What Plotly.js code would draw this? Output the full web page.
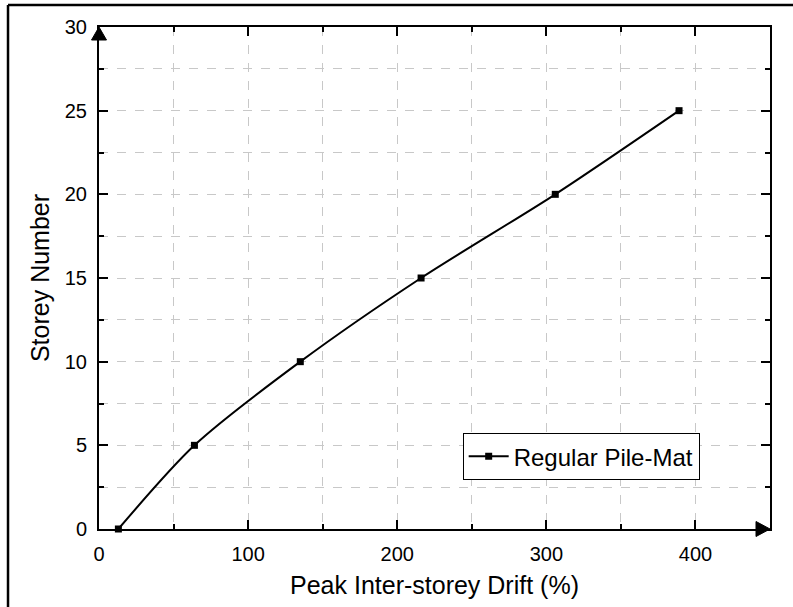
<!DOCTYPE html>
<html>
<head>
<meta charset="utf-8">
<script src="https://cdn.plot.ly/plotly-3.0.1.min.js"></script>
<style>html,body{margin:0;padding:0;background:#fff;}#chart{width:793px;height:607px;}</style>
</head>
<body>
<div id="chart"></div>
<script>
// Data
const seriesName = "Regular Pile-Mat";
const driftPercent = [13, 64, 135, 216, 306, 389];
const storeyNumber = [0, 5, 10, 15, 20, 25];
const xTitle = "Peak Inter-storey Drift (%)";
const yTitle = "Storey Number";

const FONT = "Liberation Sans, Arial, sans-serif";

const trace = {
  x: driftPercent,
  y: storeyNumber,
  name: seriesName,
  type: "scatter",
  mode: "lines+markers",
  line: {color: "#000", width: 2, shape: "spline", smoothing: 0.8},
  marker: {symbol: "square", size: 7, color: "#000"},
  showlegend: true,
  cliponaxis: false
};

const axisCommon = {
  showline: true, linecolor: "#000", linewidth: 2, mirror: "ticks",
  ticks: "inside", ticklen: 9, tickwidth: 2, tickcolor: "#000",
  showgrid: true, gridcolor: "#c8c8c8", griddash: "dash", gridwidth: 1,
  zeroline: false,
  tickfont: {family: FONT, size: 20, color: "#000"}
};

const layout = {
  width: 793, height: 607,
  margin: {l: 99, r: 23, t: 27, b: 78},
  paper_bgcolor: "#fff", plot_bgcolor: "#fff",
  font: {family: FONT, color: "#000"},
  xaxis: Object.assign({}, axisCommon, {
    range: [0, 450], dtick: 100, tick0: 0,
    ticklabelstandoff: 6,
    minor: {dtick: 50, ticks: "inside", ticklen: 5, tickwidth: 2, tickcolor: "#000",
            showgrid: true, gridcolor: "#c8c8c8", griddash: "dash", gridwidth: 1},
    title: {text: xTitle, font: {family: FONT, size: 25, color: "#000"}, standoff: 12}
  }),
  yaxis: Object.assign({}, axisCommon, {
    range: [0, 30], dtick: 5, tick0: 0,
    ticklabelstandoff: 6,
    minor: {dtick: 2.5, ticks: "inside", ticklen: 5, tickwidth: 2, tickcolor: "#000",
            showgrid: true, gridcolor: "#c8c8c8", griddash: "dash", gridwidth: 1},
    title: {text: yTitle, font: {family: FONT, size: 25, color: "#000"}, standoff: 8}
  }),
  legend: {
    x: 0.542, y: 0.191, xanchor: "left", yanchor: "top",
    bgcolor: "#fff", bordercolor: "#000", borderwidth: 1,
    font: {family: FONT, size: 24, color: "#000"},
    tracegroupgap: 0, itemwidth: 40
  },
  shapes: [
    // arrowhead at top of y axis
    {type: "path", xref: "paper", yref: "paper", xsizemode: "pixel", ysizemode: "pixel",
     xanchor: 0, yanchor: 1, path: "M0,0 L-7.5,-13 L7.5,-13 Z",
     fillcolor: "#000", line: {color: "#000", width: 1}, layer: "above"},
    // arrowhead at right of x axis
    {type: "path", xref: "paper", yref: "paper", xsizemode: "pixel", ysizemode: "pixel",
     xanchor: 1, yanchor: 0, path: "M0,0 L-14,7.5 L-14,-7.5 Z",
     fillcolor: "#000", line: {color: "#000", width: 1}, layer: "above"},
    // outer frame (top and left edges)
    {type: "line", xref: "paper", yref: "paper", x0: -0.1356, x1: 1.2, y0: 1.0438, y1: 1.0438,
     line: {color: "#000", width: 2.5}, layer: "above"},
    {type: "line", xref: "paper", yref: "paper", x0: -0.1356, x1: -0.1356, y0: -0.3, y1: 1.0438,
     line: {color: "#000", width: 2.5}, layer: "above"}
  ]
};

Plotly.newPlot("chart", [trace], layout, {displayModeBar: false, staticPlot: true});
</script>
</body>
</html>
